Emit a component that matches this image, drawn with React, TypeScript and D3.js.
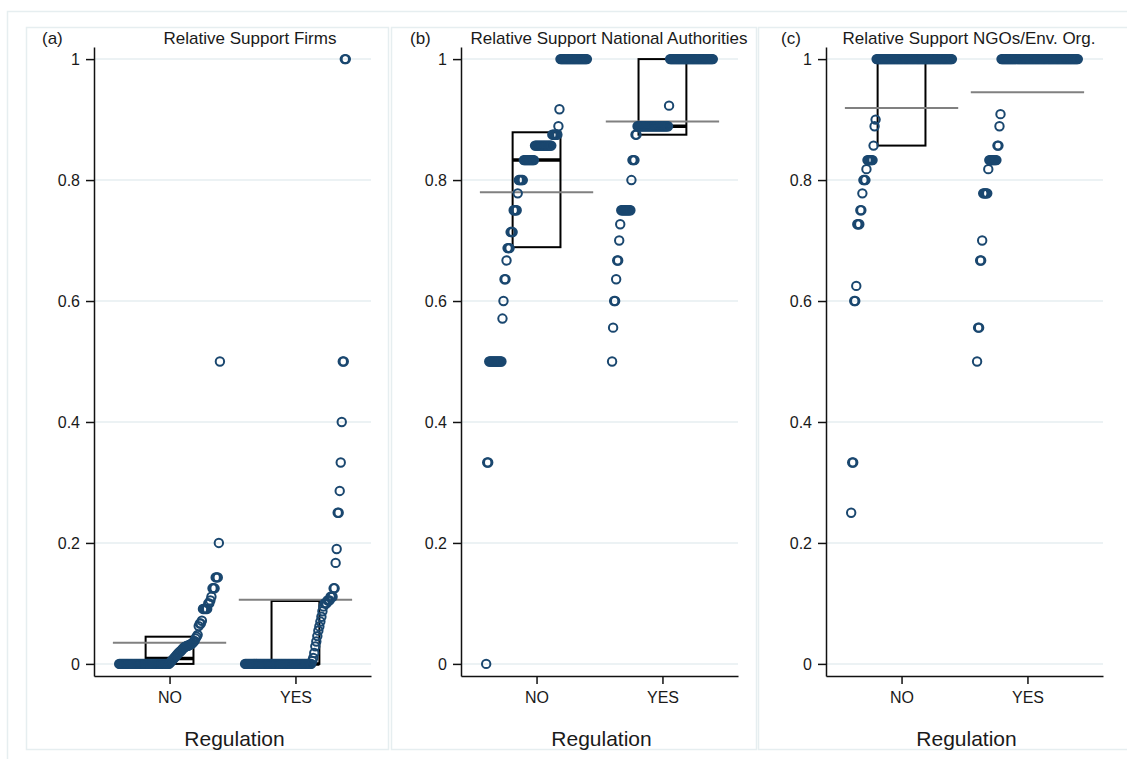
import React, { useEffect, useRef } from 'react'
import * as d3 from 'd3'

const W = 1127
const H = 759

const CATEGORIES = ['NO', 'YES']
const PANEL_LETTERS = ['(a)', '(b)', '(c)']
const PANEL_TITLES = [
  'Relative Support Firms',
  'Relative Support National Authorities',
  'Relative Support NGOs/Env. Org.',
]
const Y_TICKS = [0, 0.2, 0.4, 0.6, 0.8, 1]
const X_LABEL = 'Regulation'

const firmsNoValues = [0, 0.002, 0.004, 0.006, 0.008, 0.01, 0.012, 0.014, 0.016, 0.018, 0.02, 0.021, 0.023, 0.025, 0.027, 0.028, 0.029, 0.03, 0.031, 0.032, 0.033, 0.034, 0.036, 0.038, 0.042, 0.045, 0.048, 0.0625, 0.0667, 0.0714, 0.0909, 0.1, 0.105, 0.111, 0.125, 0.143, 0.2, 0.5]
const firmsNoCounts = [48, 1, 1, 1, 1, 1, 1, 1, 1, 1, 1, 1, 1, 1, 1, 1, 1, 2, 1, 1, 1, 1, 1, 1, 1, 1, 1, 1, 2, 1, 5, 2, 1, 1, 3, 3, 1, 1]
const firmsYesValues = [0, 0.005, 0.01, 0.018, 0.029, 0.037, 0.046, 0.055, 0.062, 0.07, 0.078, 0.087, 0.095, 0.1, 0.105, 0.111, 0.125, 0.167, 0.19, 0.25, 0.286, 0.333, 0.4, 0.5, 1]
const firmsYesCounts = [66, 1, 1, 1, 1, 1, 1, 1, 1, 1, 1, 1, 1, 3, 3, 3, 2, 1, 1, 2, 1, 1, 1, 2, 2]

const authNoValues = [0, 0.333, 0.5, 0.571, 0.6, 0.636, 0.667, 0.6875, 0.714, 0.75, 0.778, 0.8, 0.833, 0.857, 0.875, 0.889, 0.917, 1]
const authNoCounts = [1, 2, 13, 1, 1, 2, 1, 3, 3, 4, 1, 5, 11, 17, 6, 1, 1, 27]
const authYesValues = [0.5, 0.556, 0.6, 0.636, 0.667, 0.7, 0.727, 0.75, 0.8, 0.833, 0.875, 0.889, 0.923, 1]
const authYesCounts = [1, 1, 2, 1, 2, 1, 1, 10, 1, 3, 2, 31, 1, 43]

const ngoNoValues = [0.25, 0.333, 0.6, 0.625, 0.727, 0.75, 0.778, 0.8, 0.818, 0.833, 0.857, 0.889, 0.9, 1]
const ngoNoCounts = [1, 2, 2, 1, 3, 2, 1, 3, 1, 6, 1, 1, 1, 75]
const ngoYesValues = [0.5, 0.556, 0.667, 0.7, 0.778, 0.818, 0.833, 0.857, 0.889, 0.909, 1]
const ngoYesCounts = [1, 2, 2, 1, 5, 1, 8, 2, 1, 1, 76]

// box summaries per panel, [NO, YES]
const Q1 = [[0, 0], [0.689, 0.875], [0.857, 1]]
const MEDIAN = [[0.009, 0], [0.833, 0.889], [1, 1]]
const Q3 = [[0.045, 0.104], [0.879, 1], [1, 1]]
const MEAN = [[0.035, 0.106], [0.78, 0.897], [0.919, 0.945]]

const GROUPS = [
  [[firmsNoValues, firmsNoCounts], [firmsYesValues, firmsYesCounts]],
  [[authNoValues, authNoCounts], [authYesValues, authYesCounts]],
  [[ngoNoValues, ngoNoCounts], [ngoYesValues, ngoYesCounts]],
]

// layout
const AXIS_LEFT = [94, 461, 826]
const PLOT_W = 277
const FRAME_X = [[26, 388], [391, 756], [758, 1140]]
const LETTER_X = [42, 410, 781]
const TITLE_CX = [250, 609, 969]

const NAVY = '#1a476f'
const GRID = '#e6eef0'
const FONT = '"Liberation Sans", Arial, sans-serif'

export default function App() {
  const svgRef = useRef<SVGSVGElement>(null)

  useEffect(() => {
    const svg = d3.select(svgRef.current)
    svg.selectAll('*').remove()

    svg.append('rect').attr('width', W).attr('height', H).attr('fill', '#fff')
    svg.append('rect')
      .attr('x', 7.5).attr('y', 11.5).attr('width', W + 10).attr('height', H)
      .attr('fill', 'none').attr('stroke', GRID).attr('stroke-width', 1.5)

    const y = d3.scaleLinear().domain([-0.02, 1.02]).range([676, 47])

    PANEL_TITLES.forEach((title, p) => {
      const left = AXIS_LEFT[p]
      const x = d3.scaleLinear().domain([-0.6, 1.6]).range([left, left + PLOT_W])
      const g = svg.append('g')

      g.append('rect')
        .attr('x', FRAME_X[p][0] + 0.5).attr('y', 27.5)
        .attr('width', FRAME_X[p][1] - FRAME_X[p][0]).attr('height', 722)
        .attr('fill', 'none').attr('stroke', GRID).attr('stroke-width', 1.5)

      // gridlines
      g.selectAll('line.grid')
        .data(Y_TICKS)
        .join('line')
        .attr('class', 'grid')
        .attr('x1', left).attr('x2', left + PLOT_W)
        .attr('y1', d => y(d)).attr('y2', d => y(d))
        .attr('stroke', GRID).attr('stroke-width', 1.5)

      // axes
      const yAxis = g.append('g')
        .attr('transform', `translate(${left},0)`)
        .call(d3.axisLeft(y).tickValues(Y_TICKS).tickFormat(d3.format('~g')).tickSize(8).tickSizeOuter(0).tickPadding(6))
      const xAxis = g.append('g')
        .attr('transform', `translate(0,${y.range()[0]})`)
        .call(d3.axisBottom(x).tickValues([0, 1]).tickFormat((d, i) => CATEGORIES[i]).tickSize(8).tickSizeOuter(0).tickPadding(8))
      for (const ax of [yAxis, xAxis]) {
        ax.select('.domain').attr('stroke', '#111').attr('stroke-width', 1.5)
        ax.selectAll('.tick line').attr('stroke', '#111').attr('stroke-width', 1.5)
        ax.selectAll('.tick text').attr('font-family', FONT).attr('font-size', 16).attr('fill', '#1a1a1a')
      }

      g.append('text')
        .attr('x', (left + left + PLOT_W) / 2 + 2).attr('y', 746)
        .attr('text-anchor', 'middle')
        .attr('font-family', FONT).attr('font-size', 21).attr('fill', '#1a1a1a')
        .text(X_LABEL)

      g.append('text')
        .attr('x', LETTER_X[p]).attr('y', 44)
        .attr('font-family', FONT).attr('font-size', 17).attr('fill', '#1a1a1a')
        .text(PANEL_LETTERS[p])
      g.append('text')
        .attr('x', TITLE_CX[p]).attr('y', 43.5)
        .attr('text-anchor', 'middle')
        .attr('font-family', FONT).attr('font-size', 17).attr('fill', '#1a1a1a')
        .text(title)

      CATEGORIES.forEach((cat, c) => {
        // box
        g.append('rect')
          .attr('x', x(c - 0.19)).attr('width', x(c + 0.19) - x(c - 0.19))
          .attr('y', y(Q3[p][c])).attr('height', y(Q1[p][c]) - y(Q3[p][c]))
          .attr('fill', 'none').attr('stroke', '#000').attr('stroke-width', 2)
        g.append('line')
          .attr('x1', x(c - 0.19)).attr('x2', x(c + 0.19))
          .attr('y1', y(MEDIAN[p][c])).attr('y2', y(MEDIAN[p][c]))
          .attr('stroke', '#000').attr('stroke-width', 3.5)
        // mean
        g.append('line')
          .attr('x1', x(c - 0.45)).attr('x2', x(c + 0.45))
          .attr('y1', y(MEAN[p][c])).attr('y2', y(MEAN[p][c]))
          .attr('stroke', '#808080').attr('stroke-width', 2)

        const [vals, counts] = GROUPS[p][c]
        const obs = vals.flatMap((v, i) => Array(counts[i]).fill(v))
        const n = obs.length
        g.append('g')
          .selectAll('circle')
          .data(obs)
          .join('circle')
          .attr('cx', (d, i) => x(c + (i / (n - 1) - 0.5) * 0.8))
          .attr('cy', d => y(d))
          .attr('r', 4.2)
          .attr('fill', 'none')
          .attr('stroke', NAVY)
          .attr('stroke-width', 2)
      })
    })
  }, [])

  return (
    <svg ref={svgRef} width={W} height={H}
      style={{ position: 'absolute', left: 0, top: 0, display: 'block' }} />
  )
}
